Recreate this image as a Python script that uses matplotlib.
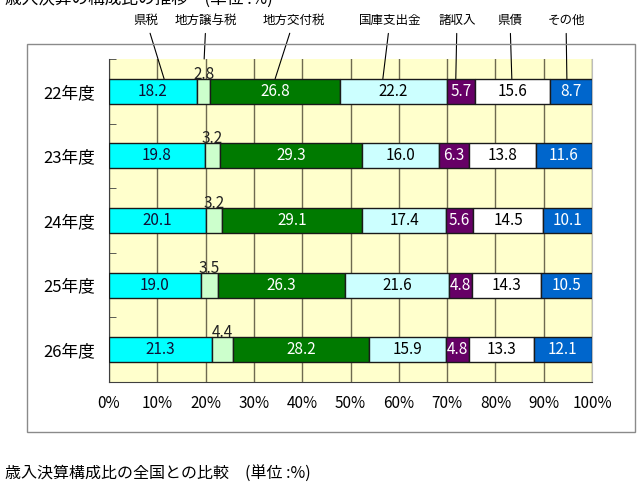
import matplotlib
matplotlib.use('Agg')
import matplotlib.pyplot as plt
from matplotlib.patches import Rectangle
import numpy as np

plt.rcParams['font.family'] = ['Noto Sans CJK JP', 'DejaVu Sans']

# ---- データ ----
years = ['22年度', '23年度', '24年度', '25年度', '26年度']
items = ['県税', '地方譲与税', '地方交付税', '国庫支出金', '諸収入', '県債', 'その他']
kenzei     = [18.2, 19.8, 20.1, 19.0, 21.3]
jouyozei   = [2.8, 3.2, 3.2, 3.5, 4.4]
koufuzei   = [26.8, 29.3, 29.1, 26.3, 28.2]
kokko      = [22.2, 16.0, 17.4, 21.6, 15.9]
shoshunyu  = [5.7, 6.3, 5.6, 4.8, 4.8]
kensai     = [15.6, 13.8, 14.5, 14.3, 13.3]
sonota     = [8.7, 11.6, 10.1, 10.5, 12.1]
series = [kenzei, jouyozei, koufuzei, kokko, shoshunyu, kensai, sonota]

colors = ['#00FFFF', '#CCFFCC', '#007A00', '#CCFFFF', '#660066', '#FFFFFF', '#0066CC']
txt_colors = ['#101035', 'black', 'white', 'black', 'white', 'black', 'white']

# 凡例ラベル位置(図のピクセル)と引き出し線の先(%)
label_px = [146, 206, 294, 390, 457, 510, 566]
leader_x = [11.4, 19.7, 34.4, 56.7, 71.8, 83.4, 94.8]

W, H = 637, 494
fig = plt.figure(figsize=(W / 100, H / 100), dpi=100)
fig.patch.set_facecolor('white')

# 外枠
fig.add_artist(Rectangle((27 / W, 1 - 432 / H), (635 - 27) / W, (432 - 44) / H,
                         transform=fig.transFigure, fill=False, ec='#8a8a8a', lw=1))

ax = fig.add_axes([109 / W, 1 - 382 / H, (592 - 109) / W, (382 - 59) / H])
ax.set_facecolor('#FFFFCC')

y = np.arange(len(years))
bh = 0.39
left = np.zeros(len(years))
for i, (vals, c) in enumerate(zip(series, colors)):
    vals = np.array(vals)
    ax.barh(y, vals, left=left, height=bh, color=c, edgecolor='#1a1a1a', lw=1, zorder=3)
    for j, v in enumerate(vals):
        cx = left[j] + v / 2
        if i == 1:
            ax.annotate(f'{v:.1f}', (cx, y[j] - bh / 2), xytext=(0, 0),
                        textcoords='offset points', ha='center', va='baseline',
                        fontsize=11, color='#222222', zorder=4)
        else:
            ax.text(cx, y[j], f'{v:.1f}', ha='center', va='center',
                    fontsize=11, color=txt_colors[i], zorder=4)
    left += vals

ax.set_xlim(0, 100)
ax.set_ylim(len(years) - 0.5, -0.5)
ax.set_xticks(np.arange(0, 101, 10))
ax.set_xticklabels([f'{t}%' for t in range(0, 101, 10)], fontsize=11)
ax.tick_params(axis='x', length=0, pad=9)
ax.set_yticks(y)
ax.set_yticklabels(years, fontsize=12)
ax.tick_params(axis='y', length=0, pad=10)
ax.set_yticks(np.arange(-0.5, len(years), 1), minor=True)
ax.tick_params(axis='y', which='minor', direction='in', length=5, color='#404040')
ax.grid(axis='x', color='#6e6a50', lw=1, zorder=1)
ax.set_axisbelow(True)
for s in ['top']:
    ax.spines[s].set_visible(False)
ax.spines['right'].set_color('#bdbdbd')
ax.spines['left'].set_color('#404040')
ax.spines['bottom'].set_color('#404040')

# 凡例ラベルと引き出し線
for k, name in enumerate(items):
    yt = -bh / 2 if k != 1 else -0.5
    ax.annotate(name, xy=(leader_x[k], yt), xycoords='data',
                xytext=(label_px[k], H - 20), textcoords='figure pixels',
                ha='center', va='center', fontsize=9, color='black',
                arrowprops=dict(arrowstyle='-', color='black', lw=0.8,
                                shrinkA=3, shrinkB=0),
                annotation_clip=False, zorder=5)

# 上下のタイトル
fig.text(5 / W, 1 + 1 / H, '歳入決算の構成比の推移　(単位 :%)', ha='left', va='center',
         fontsize=12, color='black')
fig.text(5 / W, 20 / H, '歳入決算構成比の全国との比較　(単位 :%)', ha='left', va='center',
         fontsize=11.5, color='black')

fig.savefig('out.png', dpi=100)
